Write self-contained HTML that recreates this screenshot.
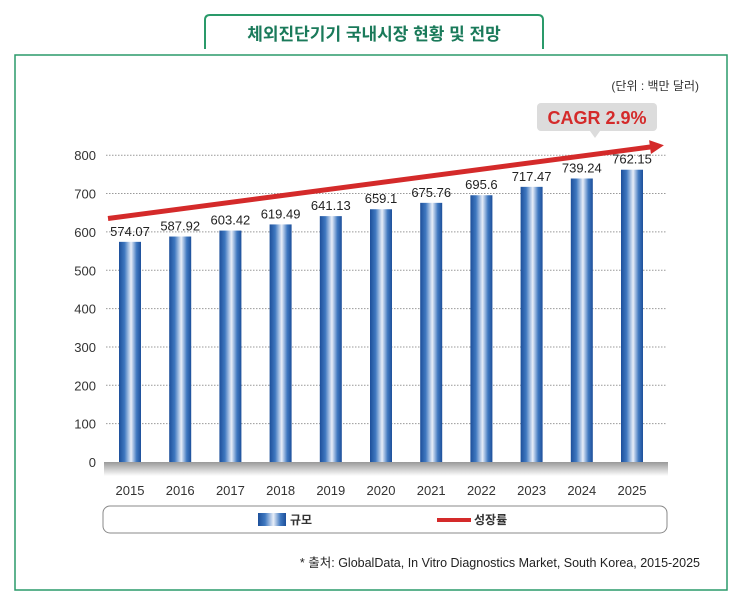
<!DOCTYPE html>
<html><head><meta charset="utf-8"><style>
body{margin:0;background:#fff;font-family:"Liberation Sans","Noto Sans CJK KR",sans-serif}
svg text{font-family:"Liberation Sans","Noto Sans CJK KR",sans-serif}
</style></head><body>
<svg width="735" height="599" viewBox="0 0 735 599" xmlns="http://www.w3.org/2000/svg">
<defs>
<linearGradient id="bg" x1="0" x2="1" y1="0" y2="0">
<stop offset="0" stop-color="#1d4f9a"/><stop offset="0.25" stop-color="#3f78c0"/><stop offset="0.55" stop-color="#e8eef8"/><stop offset="0.8" stop-color="#3f78c0"/><stop offset="1" stop-color="#1d4f9a"/></linearGradient>
<linearGradient id="gr" x1="0" x2="0" y1="0" y2="1"><stop offset="0" stop-color="#999"/><stop offset="1" stop-color="#fff"/></linearGradient>
</defs>
<rect x="15" y="55" width="712" height="535" fill="#fff" stroke="#2a9a6a" stroke-width="1.5"/>
<path d="M205,49 L205,20 Q205,15 210,15 L538,15 Q543,15 543,20 L543,49" fill="#fff" stroke="#2a9a6a" stroke-width="2"/>
<text x="374" y="40" text-anchor="middle" font-size="17" font-weight="bold" fill="#1a7a5a">체외진단기기 국내시장 현황 및 전망</text>
<text x="699" y="90" text-anchor="end" font-size="12" fill="#333">(단위 : 백만 달러)</text>
<g id="grid"></g>
<rect x="104" y="462" width="564" height="14" fill="url(#gr)"/>
<g id="bars"></g>
<g id="line"></g>
<g>
<rect x="537" y="103" width="120" height="28" rx="4" fill="#dcdcdc"/>
<polygon points="590,131 600,131 595,138" fill="#dcdcdc"/>
<text x="597" y="124" text-anchor="middle" font-size="18" font-weight="bold" fill="#d42a2a">CAGR 2.9%</text>
</g>
<rect x="103" y="506" width="564" height="27" rx="7" fill="#fff" stroke="#888"/>
<rect x="258" y="513" width="28" height="13" fill="url(#bg)"/>
<text x="290" y="524" font-size="12" font-weight="bold" fill="#333">규모</text>
<rect x="437" y="518" width="34" height="4" fill="#d42a2a"/>
<text x="474" y="524" font-size="12" font-weight="bold" fill="#333">성장률</text>
<text x="700" y="567" text-anchor="end" font-size="12.5" fill="#222">* 출처: GlobalData, In Vitro Diagnostics Market, South Korea, 2015-2025</text>
</svg>
<script>
const years=["2015","2016","2017","2018","2019","2020","2021","2022","2023","2024","2025"];
const sizes=[574.07,587.92,603.42,619.49,641.13,659.1,675.76,695.6,717.47,739.24,762.15];
const sizeLabels=["574.07","587.92","603.42","619.49","641.13","659.1","675.76","695.6","717.47","739.24","762.15"];
const ticks=[0,100,200,300,400,500,600,700,800];
const trend=[635,822];
const NS="http://www.w3.org/2000/svg";
const y=v=>462-v*0.3835;
const x=i=>130+i*50.2;
function mk(t,a,p){const e=document.createElementNS(NS,t);for(const k in a)e.setAttribute(k,a[k]);p.appendChild(e);return e;}
const g=document.getElementById('grid'),b=document.getElementById('bars'),l=document.getElementById('line');
ticks.forEach(t=>{
 if(t>0){const ln=mk('line',{x1:106,x2:667,y1:y(t),y2:y(t),stroke:'#999','stroke-dasharray':'1.5,1.5'},g);
 
 }
 const tx=mk('text',{x:96,y:y(t)+5,'text-anchor':'end','font-size':13,fill:'#333'},g);tx.textContent=t;
 
 
});
sizes.forEach((v,i)=>{
 const r=mk('rect',{x:x(i)-11,y:y(v),width:22,height:462-y(v),fill:'url(#bg)'},b);
 
 
 const t=mk('text',{x:x(i),y:y(v)-6,'text-anchor':'middle','font-size':13,fill:'#222'},b);t.textContent=sizeLabels[i];
 
 
 const yt=mk('text',{x:x(i),y:495,'text-anchor':'middle','font-size':13,fill:'#333'},b);yt.textContent=years[i];
 
 
});
const x0=108,x1=652,y0=y(trend[0]),y1=y(trend[1]);
const ln=mk('line',{x1:x0,y1:y0,x2:x1,y2:y1,stroke:'#d42a2a','stroke-width':5},l);


const ang=Math.atan2(y1-y0,x1-x0),c=Math.cos(ang),s=Math.sin(ang);
const tip=[x1+12*c,y1+12*s];
const p=mk('polygon',{points:`${tip[0]},${tip[1]} ${x1-2*c-7*s},${y1-2*s+7*c} ${x1-2*c+7*s},${y1-2*s-7*c}`,fill:'#d42a2a'},l);


</script>
</body></html>
